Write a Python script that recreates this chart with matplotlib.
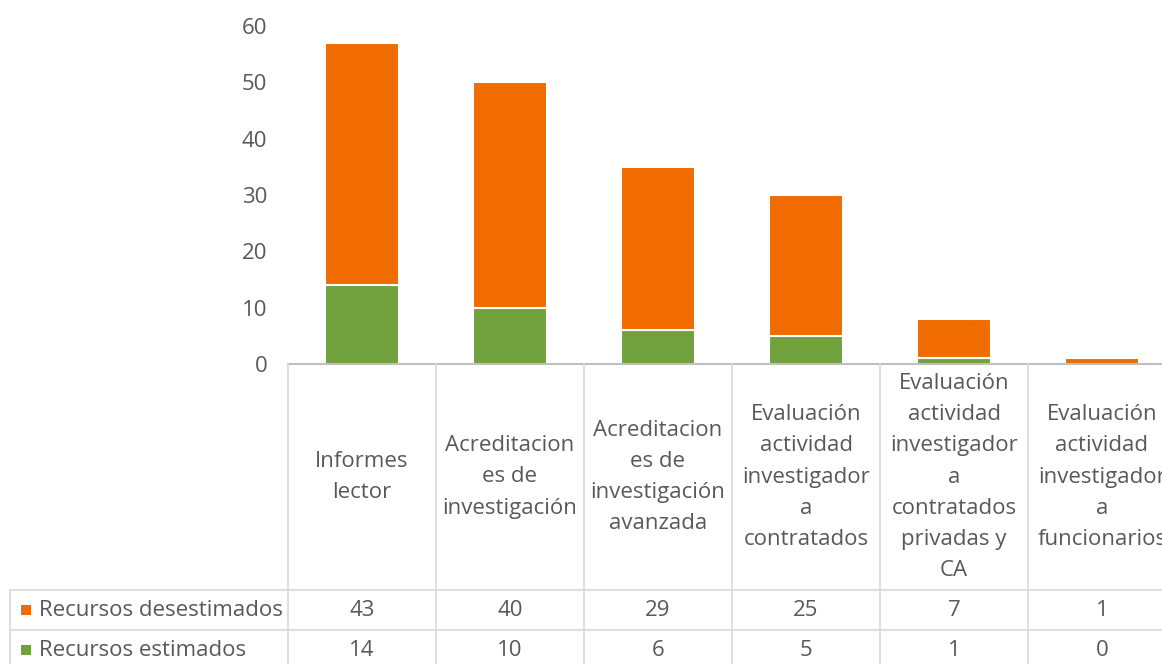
import matplotlib
matplotlib.use("Agg")
import matplotlib.pyplot as plt
from matplotlib.transforms import blended_transform_factory
from matplotlib.patches import Rectangle

categories = [
    "Informes\nlector",
    "Acreditacion\nes de\ninvestigación",
    "Acreditacion\nes de\ninvestigación\navanzada",
    "Evaluación\nactividad\ninvestigador\na\ncontratados",
    "Evaluación\nactividad\ninvestigador\na\ncontratados\nprivadas y\nCA",
    "Evaluación\nactividad\ninvestigador\na\nfuncionarios",
]
series_names = ["Recursos desestimados", "Recursos estimados"]
desestimados = [43, 40, 29, 25, 7, 1]
estimados = [14, 10, 6, 5, 1, 0]
yticks = [0, 10, 20, 30, 40, 50, 60]

ORANGE = "#F06B00"
GREEN = "#70A13D"
TEXT = "#595959"
GRID = "#D9D9D9"
FONT = "Open Sans"
FS = 16

W, H = 1162, 664
fig = plt.figure(figsize=(W / 100, H / 100), dpi=100)

def fx(px):
    return px / W

def fy(py):
    return 1 - py / H

ax_left, ax_right, ax_top, ax_bot = 288, 1176, 26, 364
ax = fig.add_axes([fx(ax_left), fy(ax_bot), fx(ax_right - ax_left), (ax_bot - ax_top) / H])
x = list(range(len(categories)))
ax.bar(x, estimados, width=0.5, color=GREEN, edgecolor="white", linewidth=1.5)
ax.bar(x, desestimados, width=0.5, bottom=estimados, color=ORANGE, edgecolor="white", linewidth=1.5)
ax.set_xlim(-0.5, len(categories) - 0.5)
ax.set_ylim(0, 60)
ax.set_yticks(yticks)
ax.set_yticklabels([str(t) for t in yticks], fontsize=FS, color=TEXT, fontfamily=FONT)
ax.tick_params(axis="y", length=0, pad=15)
ax.set_xticks([])
for s in ax.spines.values():
    s.set_visible(False)
ax.axhline(0, color="#BFBFBF", lw=1.5, clip_on=False)

tr = blended_transform_factory(ax.transData, fig.transFigure)
# table lines
for b in [i - 0.5 for i in range(len(categories) + 1)]:
    fig.add_artist(plt.Line2D([b, b], [fy(364), fy(664)], transform=tr, color=GRID, lw=1.2))
for py in [590, 630]:
    fig.add_artist(plt.Line2D([fx(10), fx(1176)], [fy(py), fy(py)], transform=fig.transFigure, color=GRID, lw=1.2))
fig.add_artist(plt.Line2D([fx(10), fx(10)], [fy(590), fy(664)], transform=fig.transFigure, color=GRID, lw=1.2))

# header labels
for i, c in enumerate(categories):
    fig.text(i, fy(477), c, transform=tr, ha="center", va="center", fontsize=FS,
             color=TEXT, fontfamily=FONT, linespacing=1.63, multialignment="center")

# rows
rows = [(series_names[0], desestimados, ORANGE, 610), (series_names[1], estimados, GREEN, 650)]
for name, vals, col, py in rows:
    fig.add_artist(Rectangle((fx(21), fy(py) - 5 / H), 10 / W, 10 / H, transform=fig.transFigure,
                             color=col, lw=0))
    fig.text(fx(39), fy(py), name, ha="left", va="center", fontsize=FS, color=TEXT, fontfamily=FONT)
    for i, v in enumerate(vals):
        fig.text(i, fy(py), str(v), transform=tr, ha="center", va="center", fontsize=FS,
                 color=TEXT, fontfamily=FONT)

fig.savefig("out.png", dpi=100)
